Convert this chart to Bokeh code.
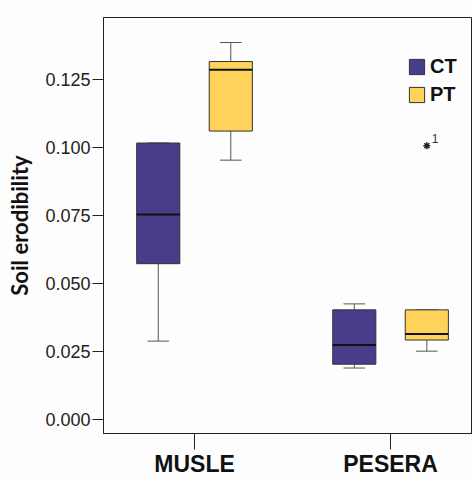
from bokeh.plotting import figure
from bokeh.models import Range1d, FixedTicker, Legend, LegendItem, ColumnDataSource, CustomJSTickFormatter
from bokeh.core.properties import value
from bokeh.embed import file_html
from bokeh.resources import INLINE

categories = ["MUSLE", "PESERA"]
groups = ["CT", "PT"]
colors = ["#483D8B", "#FFD25A"]

# per group: values for [MUSLE, PESERA]
lower = {"CT": [0.0288, 0.0189], "PT": [0.0954, 0.0251]}
q1 = {"CT": [0.0573, 0.0203], "PT": [0.1061, 0.0292]}
median = {"CT": [0.0754, 0.0274], "PT": [0.1287, 0.0314]}
q3 = {"CT": [0.1017, 0.0403], "PT": [0.1317, 0.0403]}
upper = {"CT": [0.1017, 0.0425], "PT": [0.1387, 0.0403]}

outlier_category = ["PESERA"]
outlier_group = ["PT"]
outlier_value = [0.1007]
outlier_label = ["1"]

yticks = [0.0, 0.025, 0.05, 0.075, 0.1, 0.125]

offsets = {"CT": -0.185, "PT": 0.185}
box_w = 0.22
cap_w = 0.11

p = figure(width=472, height=479, output_backend="svg", toolbar_location=None,
           x_range=Range1d(0.5357, 2.418), y_range=Range1d(-0.0052, 0.1479),
           min_border_left=103, min_border_right=0, min_border_top=17, min_border_bottom=40)
p.background_fill_color = "#fdfdfd"
p.border_fill_color = "#fdfdfd"
p.outline_line_color = "#222222"
p.outline_line_width = 1
p.xgrid.visible = False
p.ygrid.visible = False

items = []
for g, c in zip(groups, colors):
    xs = [i + 1 + offsets[g] for i in range(len(categories))]
    src = ColumnDataSource(dict(x=xs, lower=lower[g], q1=q1[g], med=median[g], q3=q3[g], upper=upper[g],
                                x0=[x - box_w / 2 for x in xs], x1=[x + box_w / 2 for x in xs],
                                c0=[x - cap_w / 2 for x in xs], c1=[x + cap_w / 2 for x in xs]))
    p.segment(x0="x", y0="q3", x1="x", y1="upper", source=src, line_color="#555555", line_width=1)
    p.segment(x0="x", y0="q1", x1="x", y1="lower", source=src, line_color="#555555", line_width=1)
    p.segment(x0="c0", y0="upper", x1="c1", y1="upper", source=src, line_color="#555555", line_width=1)
    p.segment(x0="c0", y0="lower", x1="c1", y1="lower", source=src, line_color="#555555", line_width=1)
    r = p.vbar(x="x", width=box_w, top="q3", bottom="q1", source=src, fill_color=c,
               line_color="#333333", line_width=1)
    p.segment(x0="x0", y0="med", x1="x1", y1="med", source=src, line_color="#111111", line_width=2)
    items.append(LegendItem(label=g, renderers=[r]))

ox = [categories.index(cname) + 1 + offsets[g] for cname, g in zip(outlier_category, outlier_group)]
osrc = ColumnDataSource(dict(x=ox, y=outlier_value, t=outlier_label))
p.scatter(x="x", y="y", source=osrc, marker="asterisk", size=7, line_color="#222222", line_width=1.5)
p.text(x="x", y="y", text="t", source=osrc, x_offset=5, y_offset=-3, text_font_size="12px",
       text_color="#333333", text_font=value("Liberation Sans"), text_baseline="bottom")

legend = Legend(items=items, location=(304, 327), padding=0, margin=0, spacing=5,
                glyph_width=19, glyph_height=19, label_height=19, label_standoff=4,
                border_line_alpha=0, background_fill_alpha=0,
                label_text_font="Liberation Sans", label_text_font_style="bold",
                label_text_font_size="20px", label_text_color="#111111")
p.add_layout(legend, "center")

p.yaxis.ticker = FixedTicker(ticks=yticks)
p.yaxis.formatter = CustomJSTickFormatter(code="return tick.toFixed(3);")
p.yaxis.axis_label = "Soil erodibility"
p.yaxis.axis_label_text_font = "Lato"
p.yaxis.axis_label_text_font_style = "bold"
p.yaxis.axis_label_text_font_size = "22px"
p.yaxis.axis_label_text_color = "#111111"
p.yaxis.axis_label_standoff = 9
p.yaxis.major_label_text_font = "Liberation Sans"
p.yaxis.major_label_text_font_size = "18px"
p.yaxis.major_label_text_color = "#222222"
p.yaxis.major_label_standoff = 2
p.yaxis.major_tick_out = 11
p.yaxis.major_tick_in = 0
p.yaxis.minor_tick_out = 0
p.yaxis.minor_tick_in = 0
p.yaxis.axis_line_color = "#222222"
p.yaxis.major_tick_line_color = "#222222"

p.xaxis.ticker = FixedTicker(ticks=[i + 1 for i in range(len(categories))])
p.xaxis.major_label_overrides = {i + 1: c for i, c in enumerate(categories)}
p.xaxis.major_label_text_font = "Liberation Sans"
p.xaxis.major_label_text_font_style = "bold"
p.xaxis.major_label_text_font_size = "23px"
p.xaxis.major_label_text_color = "#111111"
p.xaxis.major_label_standoff = 1
p.xaxis.major_tick_out = 16
p.xaxis.major_tick_in = 0
p.xaxis.minor_tick_out = 0
p.xaxis.minor_tick_in = 0
p.xaxis.axis_line_color = "#222222"
p.xaxis.major_tick_line_color = "#222222"

open("out.html", "w").write(file_html(p, INLINE))
